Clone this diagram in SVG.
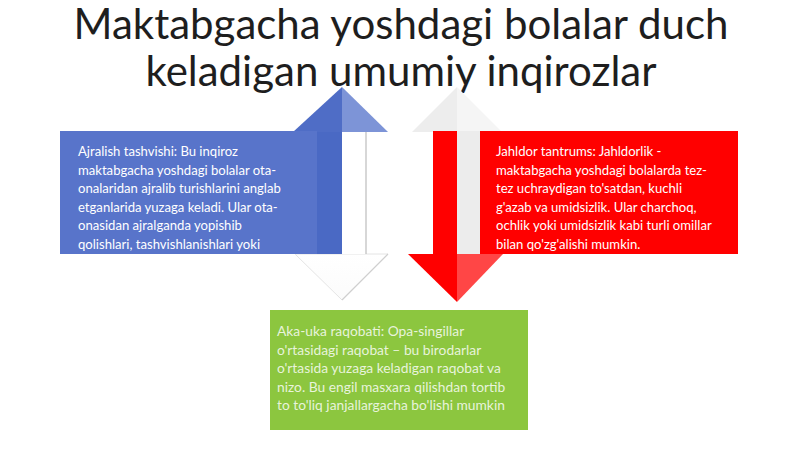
<svg xmlns="http://www.w3.org/2000/svg" width="800" height="449" viewBox="0 0 800 449">
  <defs>
    <style>
      .title { font-family: Lato, "Open Sans", "Liberation Sans", sans-serif; font-size: 42px; fill: #1e1e1e; text-anchor: middle; }
      .body { font-family: Lato, "Open Sans", "Liberation Sans", sans-serif; font-size: 13.1px; fill: #ffffff; }
      .big { font-size: 13.8px; }
      .faded { fill-opacity: 0.82; }
    </style>
    <linearGradient id="paleDown" x1="0" y1="0" x2="0" y2="1">
      <stop offset="0" stop-color="#ffffff"/>
      <stop offset="1" stop-color="#fbfbfb"/>
    </linearGradient>
  </defs>
  <rect width="800" height="449" fill="#ffffff"/>

  <g id="title">
    <text class="title" x="401" y="39">Maktabgacha yoshdagi bolalar duch</text>
    <text class="title" x="401" y="86">keladigan umumiy inqirozlar</text>
  </g>

  <g id="connectors">
    <g id="arrow-up">
      <polygon points="342,300 295,254 388,254" fill="url(#paleDown)" stroke="#e4e4e4" stroke-width="1"/>
      <line x1="388" y1="254" x2="342" y2="300" stroke="#cfcfcf" stroke-width="1.2"/>
      <rect x="317" y="131" width="49" height="123" fill="#ffffff"/>
      <rect x="317" y="131" width="25" height="123" fill="#4a69c4"/>
      <line x1="366" y1="131" x2="366" y2="254" stroke="#bdbdbd" stroke-width="1.2"/>
      <polygon points="293,132 342,87 342,132" fill="#4f6dc6"/>
      <polygon points="342,87 388,132 342,132" fill="#7d94d7"/>
    </g>
    <g id="arrow-down">
      <polygon points="412,132 457,87 457,132" fill="#ededed"/>
      <polygon points="457,87 502,132 457,132" fill="#f5f5f5"/>
      <rect x="433" y="131" width="24" height="123" fill="#ff0000"/>
      <rect x="457" y="131" width="23" height="123" fill="#ececec"/>
      <polygon points="408,254 457,302 457,254" fill="#ff0000"/>
      <polygon points="457,254 503,254 457,302" fill="#ff4646"/>
    </g>
  </g>

  <g id="node-separation">
    <rect x="60" y="131" width="257" height="123" fill="#5874ca"/>
    <text class="body" x="78">
      <tspan x="78" y="156">Ajralish tashvishi: Bu inqiroz</tspan>
      <tspan x="78" y="174.5">maktabgacha yoshdagi bolalar ota-</tspan>
      <tspan x="78" y="193">onalaridan ajralib turishlarini anglab</tspan>
      <tspan x="78" y="211.5">etganlarida yuzaga keladi. Ular ota-</tspan>
      <tspan x="78" y="230">onasidan ajralganda yopishib</tspan>
      <tspan x="78" y="248.5">qolishlari, tashvishlanishlari yoki</tspan>
    </text>
  </g>

  <g id="node-tantrums">
    <rect x="480" y="131" width="258" height="123" fill="#ff0000"/>
    <text class="body" x="496">
      <tspan x="496" y="156">Jahldor tantrums: Jahldorlik -</tspan>
      <tspan x="496" y="174.5">maktabgacha yoshdagi bolalarda tez-</tspan>
      <tspan x="496" y="193">tez uchraydigan to'satdan, kuchli</tspan>
      <tspan x="496" y="211.5">g'azab va umidsizlik. Ular charchoq,</tspan>
      <tspan x="496" y="230">ochlik yoki umidsizlik kabi turli omillar</tspan>
      <tspan x="496" y="248.5">bilan qo'zg'alishi mumkin.</tspan>
    </text>
  </g>

  <g id="node-sibling">
    <rect x="270" y="310" width="258" height="120" fill="#8cc63f"/>
    <text class="body big faded" x="277">
      <tspan x="277" y="336">Aka-uka raqobati: Opa-singillar</tspan>
      <tspan x="277" y="354.5">o'rtasidagi raqobat – bu birodarlar</tspan>
      <tspan x="277" y="373">o'rtasida yuzaga keladigan raqobat va</tspan>
      <tspan x="277" y="391.5">nizo. Bu engil masxara qilishdan tortib</tspan>
      <tspan x="277" y="410">to to'liq janjallargacha bo'lishi mumkin</tspan>
    </text>
  </g>
</svg>
